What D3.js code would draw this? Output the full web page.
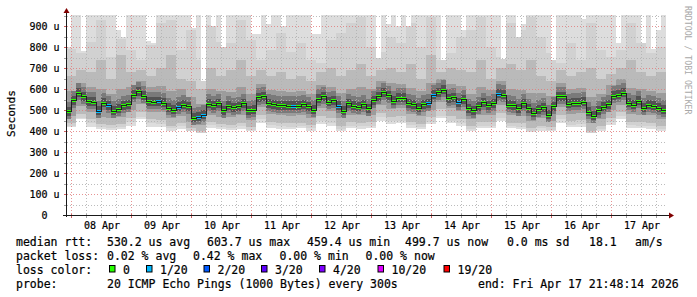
<!DOCTYPE html>
<html><head><meta charset="utf-8">
<script src="https://cdn.jsdelivr.net/npm/d3@7/dist/d3.min.js"></script>
<style>
html,body{margin:0;padding:0;background:#fff;overflow:hidden;}
svg{display:block;}
text{font-family:"DejaVu Sans Mono",monospace;}
</style></head><body>
<svg id="chart" width="697" height="297"></svg>
<script>
// ---------------- data ----------------
const endTime = Date.UTC(2026, 3, 17, 21, 48, 14);
const spanDays = 10;
const medianStepHours = 2;
const smokeStepHours = 4;

// median RTT per 2 h (microseconds)
const median = [
 492,545,579,562,540,536,494,533,521,493,
 504,520,525,570,586,566,540,537,540,531,
 509,499,514,522,516,461,466,474,527,520,
 530,497,517,510,515,530,496,498,558,562,
 530,525,521,521,518,518,518,524,516,499,
 552,563,538,544,517,494,529,518,514,526,
 505,545,563,581,568,541,555,555,529,526,
 509,524,530,570,582,595,553,558,534,549,
 505,497,516,535,520,530,575,570,522,520,
 507,529,505,484,502,510,476,515,562,562,
 528,531,533,536,489,471,497,512,525,566,
 571,580,531,522,542,509,523,517,509,500];

// 2 h slots that lost 1 of 20 pings
const loss1of20 = [6, 8, 18, 22, 26, 27, 45, 54, 72, 73, 78, 86];

// smoke: highest ping per 2 h (microseconds; values above ~952 are clipped)
const smokeMax = [
 800,990,990,780,990,990,990,990,990,990,
 880,850,990,990,990,990,830,820,990,990,
 990,990,990,990,990,890,990,640,990,900,
 990,800,990,990,990,990,990,860,860,990,
 910,990,990,900,990,990,990,990,990,860,
 860,990,990,990,990,990,990,990,990,990,
 990,990,750,990,910,990,900,990,900,990,
 990,990,990,990,990,740,990,990,990,880,
 990,990,990,990,990,990,990,745,990,990,
 850,910,990,990,990,990,990,740,990,990,
 990,990,990,935,990,990,990,990,990,990,
 820,990,990,990,990,820,990,790,880,990];

// smoke quantile edges per 4 h (microseconds)
const smokeUpper2 = [
 790,770,825,929,754,840,786,738,810,913,
 929,786,881,738,905,825,817,929,833,738,
 786,865,778,817,738,722,833,865,913,944,
 802,778,849,817,913,802,944,738,770,849,
 881,944,802,754,913,881,944,849,770,722,
 817,738,913,786,754,786,913,817,770,802];
const smokeUpper3 = [
 660,690,680,740,650,760,680,690,660,700,
 760,650,640,600,700,660,690,740,660,690,
 660,680,650,660,640,680,700,660,690,720,
 660,690,700,680,720,650,760,680,700,690,
 680,740,650,700,720,690,740,660,640,690,
 660,680,700,650,670,700,740,680,660,680];
const smokeUpper4 = [
 590,630,610,600,575,600,610,640,610,615,
 590,600,560,530,600,590,585,610,575,625,
 595,590,585,590,575,620,610,580,600,610,
 600,640,630,625,605,590,630,650,625,615,
 575,610,595,640,600,595,580,580,565,630,
 600,605,560,575,620,650,605,600,590,580];
const smokeLower4 = [
 473,520,490,465,460,468,500,528,492,490,
 460,472,445,428,478,468,466,475,452,512,
 480,475,472,476,462,508,495,460,478,474,
 478,522,505,508,480,470,502,540,508,495,
 455,478,478,522,476,472,448,460,450,512,
 482,488,436,458,498,525,480,478,474,458];
const smokeLower3 = [
 440,480,458,432,428,432,462,490,455,452,
 425,438,412,398,442,432,430,440,418,476,
 445,440,436,440,428,470,460,425,442,438,
 442,485,468,470,445,435,465,505,470,458,
 422,442,442,485,440,436,415,425,418,475,
 446,452,402,425,462,490,445,442,438,424];
const smokeLower2 = [
 425,462,438,418,415,418,442,468,436,432,
 412,422,402,392,428,418,415,422,405,455,
 428,424,420,424,412,450,440,410,426,422,
 426,465,448,450,428,420,445,470,450,440,
 410,426,425,462,424,420,402,412,405,455,
 430,434,392,410,442,470,428,426,422,410];
const smokeMin = [
 420,455,420,408,405,408,425,455,420,418,
 402,410,400,398,414,408,405,410,398,440,
 415,410,408,412,402,435,425,400,412,410,
 412,450,432,440,415,408,432,462,440,425,
 400,412,412,448,412,408,395,402,398,440,
 418,420,392,400,430,455,415,412,410,400];

const yTicks = [0,100,200,300,400,500,600,700,800,900];
const yTickLabels = ["0","100 u","200 u","300 u","400 u","500 u","600 u","700 u","800 u","900 u"];
const yMaxValue = 952.4;

const lossLabels = ["0","1/20","2/20","3/20","4/20","10/20","19/20"];
const lossColors = ["#26ff00","#00b8ff","#0059ff","#5e00ff","#7e00ff","#dd00ff","#ff0000"];
const rttStats = ["530.2 us avg","603.7 us max","459.4 us min","499.7 us now","0.0 ms sd","18.1","am/s"];
const lossStats = ["0.02 % avg","0.42 % max","0.00 % min","0.00 % now"];
const probeText = "20 ICMP Echo Pings (1000 Bytes) every 300s";
const endText = "end: Fri Apr 17 21:48:14 2026";

// ---------------- layout ----------------
const PL = 66, PR = 666, PT = 15, PB = 215;
const rttX = [107,207,307,405,507,589,635];
const lossX = [107,193,279.5,365.5];
const boxX = [109,146,203.5,261,319,377.5,443.5];

const svg = d3.select("#chart");
const startTime = endTime - spanDays * 864e5;
const x = d3.scaleUtc().domain([new Date(startTime), new Date(endTime)]).range([PL, PR]);
const y = d3.scaleLinear().domain([0, yMaxValue]).range([PB, PT]);
const mStep = medianStepHours * 36e5;
const ratio = smokeStepHours / medianStepHours;

const rows = median.map((m, i) => ({ i, j: Math.floor(i / ratio), t: startTime + i * mStep, m }));
const withEnd = arr => arr.concat([Object.assign({}, arr[arr.length - 1], { t: endTime })]);

svg.append("defs").append("clipPath").attr("id", "plot")
  .append("rect").attr("x", PL).attr("y", PT).attr("width", PR - PL).attr("height", PB - PT);

// ---- smoke ----
const gSmoke = svg.append("g").attr("clip-path", "url(#plot)").attr("shape-rendering", "crispEdges");
const bands = [
  { lo: r => smokeMin[r.j],    hi: r => smokeMax[r.i], color: "#dddddd" },
  { lo: r => smokeLower2[r.j], hi: r => Math.min(smokeUpper2[r.j], smokeMax[r.i]), color: "#d1d1d1" },
  { lo: r => smokeLower3[r.j], hi: r => Math.min(smokeUpper3[r.j], smokeMax[r.i]), color: "#bababa" },
  { lo: r => smokeLower4[r.j], hi: r => Math.min(smokeUpper4[r.j], smokeMax[r.i]), color: "#9c9c9c" }
];
bands.forEach(b => {
  const data = withEnd(rows.map(r => ({ t: r.t, y0: y(b.lo(r)), y1: y(b.hi(r)) })));
  gSmoke.append("path")
    .attr("d", d3.area().curve(d3.curveStepAfter).x(d => x(d.t)).y0(d => d.y0).y1(d => d.y1)(data))
    .attr("fill", b.color);
});
// dense core of the smoke around the median
[{ up: 10, down: 7, color: "#7a7a7a" }, { up: 5, down: 4, color: "#525252" }].forEach(c => {
  const data = withEnd(rows.map(r => ({ t: r.t, y0: y(r.m) + c.down, y1: y(r.m) - c.up })));
  gSmoke.append("path")
    .attr("d", d3.area().curve(d3.curveStepAfter).x(d => x(d.t)).y0(d => d.y0).y1(d => d.y1)(data))
    .attr("fill", c.color);
});

// ---- grid ----
const gGrid = svg.append("g").attr("shape-rendering", "crispEdges");
const minorCol = "rgba(176,176,176,0.85)", majorCol = "rgba(225,120,120,0.8)";
const hVals = d3.range(50, yMaxValue, 50);
hVals.forEach(v => {
  const yy = Math.round(y(v)) + 0.5;
  const major = v % 100 === 0;
  gGrid.append("line").attr("x1", PL + 1).attr("x2", PR).attr("y1", yy).attr("y2", yy)
    .attr("stroke", major ? majorCol : minorCol).attr("stroke-dasharray", "1,2");
  gGrid.append("line").attr("x1", PL - 2).attr("x2", PL + 1).attr("y1", yy).attr("y2", yy)
    .attr("stroke", major ? "#d06060" : "#a0a0a0");
});
const vTimes = d3.utcHour.every(6).range(new Date(startTime), new Date(endTime));
vTimes.forEach(t => {
  const xx = Math.floor(x(t)) + 0.5;
  const major = t.getUTCHours() === 0;
  gGrid.append("line").attr("x1", xx).attr("x2", xx).attr("y1", PT).attr("y2", PB)
    .attr("stroke", major ? majorCol : minorCol).attr("stroke-dasharray", "1,2");
  gGrid.append("line").attr("x1", xx).attr("x2", xx).attr("y1", PB - 1).attr("y2", PB + 3)
    .attr("stroke", major ? "#d06060" : "#a0a0a0");
});

// ---- median ----
const gMed = svg.append("g").attr("clip-path", "url(#plot)").attr("shape-rendering", "crispEdges");
gMed.selectAll("rect").data(rows).join("rect")
  .attr("x", r => x(r.t))
  .attr("width", r => x(r.t + mStep) - x(r.t))
  .attr("y", r => y(r.m) - 1.5)
  .attr("height", 3)
  .attr("fill", r => loss1of20.includes(r.i) ? lossColors[1] : lossColors[0]);
gMed.append("path")
  .attr("d", d3.line().curve(d3.curveStepAfter).x(d => x(d.t)).y(d => y(d.m))(withEnd(rows)))
  .attr("fill", "none").attr("stroke", "#202020").attr("stroke-width", 1);

// ---- axes ----
const axisCol = "#1a1a1a", arrowCol = "#800000";
svg.append("line").attr("x1", PL + 0.5).attr("x2", PL + 0.5).attr("y1", PB + 2).attr("y2", PT - 3)
  .attr("stroke", axisCol).attr("shape-rendering", "crispEdges");
svg.append("line").attr("x1", PL - 3).attr("x2", PR + 3).attr("y1", PB + 0.5).attr("y2", PB + 0.5)
  .attr("stroke", axisCol).attr("shape-rendering", "crispEdges");
svg.append("path").attr("d", `M${PL - 2.5},${PT - 2} L${PL + 3.5},${PT - 2} L${PL + 0.5},${PT - 7} Z`).attr("fill", arrowCol);
svg.append("path").attr("d", `M${PR + 3},${PB - 2.5} L${PR + 3},${PB + 3.5} L${PR + 8},${PB + 0.5} Z`).attr("fill", arrowCol);

const yAxis = svg.append("g").attr("transform", "translate(59.5,0)")
  .call(d3.axisLeft(y).tickValues(yTicks).tickFormat((d, i) => yTickLabels[i]).tickSize(0).tickPadding(0));
yAxis.select(".domain").remove();
yAxis.selectAll("text").attr("font-family", "DejaVu Sans Mono").attr("font-size", "10px").attr("fill", "#000")
  .attr("stroke", "#000").attr("stroke-width", 0.2)
  .attr("x", d => d === 0 ? -12.04 : 0);

const noonTicks = d3.utcDay.range(new Date(startTime), new Date(endTime)).map(d => d3.utcHour.offset(d, 12))
  .filter(d => +d < endTime);
const xAxis = svg.append("g").attr("transform", `translate(0,${PB})`)
  .call(d3.axisBottom(x).tickValues(noonTicks).tickFormat(d3.utcFormat("%d %b")).tickSize(0).tickPadding(6.4));
xAxis.select(".domain").remove();
xAxis.selectAll("text").attr("font-family", "DejaVu Sans Mono").attr("font-size", "10px").attr("fill", "#000")
  .attr("stroke", "#000").attr("stroke-width", 0.2);

// y title & watermark
svg.append("text").attr("transform", "translate(15,113.5) rotate(-90)").attr("text-anchor", "middle")
  .attr("font-size", "11.2px").attr("fill", "#000").attr("stroke", "#000").attr("stroke-width", 0.2).text("Seconds");
svg.append("text").attr("transform", "translate(684.6,6) rotate(90)")
  .attr("font-size", "8.2px").attr("fill", "#a8a8a8").text("RRDTOOL / TOBI OETIKER");

// ---- legend ----
const lg = svg.append("g").attr("font-size", "11.5px").attr("fill", "#000")
  .attr("stroke", "#000").attr("stroke-width", 0.2);
const lineY = [246, 259.5, 273.5, 287.5];
lg.append("text").attr("x", 16).attr("y", lineY[0]).text("median rtt:");
rttStats.forEach((s, k) => lg.append("text").attr("x", rttX[k]).attr("y", lineY[0]).text(s));
lg.append("text").attr("x", 16).attr("y", lineY[1]).text("packet loss:");
lossStats.forEach((s, k) => lg.append("text").attr("x", lossX[k]).attr("y", lineY[1]).text(s));
lg.append("text").attr("x", 16).attr("y", lineY[2]).text("loss color:");
lossLabels.forEach((s, k) => {
  lg.append("rect").attr("x", boxX[k] + 0.5).attr("y", 265.5).attr("width", 5.5).attr("height", 6.5)
    .attr("fill", lossColors[k]).attr("stroke", "#000").attr("stroke-width", 1);
  lg.append("text").attr("x", boxX[k] + 14).attr("y", lineY[2]).text(s);
});
lg.append("text").attr("x", 16).attr("y", lineY[3]).text("probe:");
lg.append("text").attr("x", 107).attr("y", lineY[3]).text(probeText);
lg.append("text").attr("x", 478).attr("y", lineY[3]).text(endText);
</script>
</body></html>
